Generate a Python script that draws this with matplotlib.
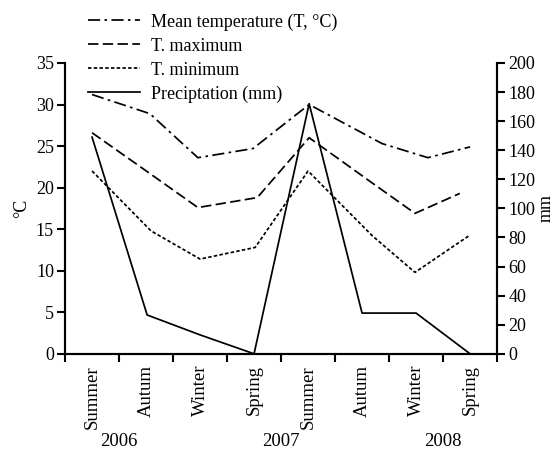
import matplotlib
matplotlib.use("Agg")
import matplotlib.pyplot as plt
import numpy as np

plt.rcParams['font.family'] = ['Liberation Serif', 'DejaVu Serif']

seasons = ["Summer", "Autum", "Winter", "Spring", "Summer", "Autum", "Winter", "Spring"]
years = ["2006", "2007", "2008"]

# x positions in season units (0 = Summer 2006)
mean_x = [0.0, 1.07, 1.96, 2.98, 4.02, 5.37, 6.22, 7.0]
mean_t = [31.2, 28.9, 23.6, 24.7, 30.0, 25.3, 23.6, 24.9]

max_x = [0.0, 1.07, 1.96, 3.06, 4.02, 5.2, 5.98, 6.81]
max_t = [26.6, 21.7, 17.6, 18.8, 26.0, 20.5, 16.9, 19.3]

min_x = [0.0, 1.09, 2.0, 3.02, 4.0, 5.19, 5.98, 7.0]
min_t = [22.0, 14.8, 11.4, 12.8, 22.0, 14.2, 9.8, 14.3]

prec_x = [0.0, 1.02, 2.0, 3.0, 4.02, 5.0, 6.0, 7.0]
prec_mm = [149, 26.7, 13, 0, 172, 28, 28, 0]

fig = plt.figure(figsize=(5.56, 4.53), dpi=100)
ax = fig.add_axes([0.117, 0.219, 0.777, 0.642])
ax2 = ax.twinx()

lw = 1.25
l1, = ax.plot(mean_x, mean_t, color='black', lw=lw, dashes=(7, 2.5, 1.5, 2.5), label='Mean temperature (T, °C)')
l2, = ax.plot(max_x, max_t, color='black', lw=lw, dashes=(6, 2.5), label='T. maximum')
l3, = ax.plot(min_x, min_t, color='black', lw=lw, dashes=(2, 1.3), label='T. minimum')
l4, = ax2.plot(prec_x, prec_mm, color='black', lw=lw, label='Preciptation (mm)')

ax.set_xlim(-0.5, 7.5)
ax.set_ylim(0, 35)
ax2.set_ylim(0, 200)
ax.set_yticks(np.arange(0, 36, 5))
ax2.set_yticks(np.arange(0, 201, 20))

ax.set_xticks(np.arange(-0.5, 7.6, 1))
ax.set_xticklabels([])
ax.set_xticks(np.arange(8), minor=True)
ax.set_xticklabels(seasons, minor=True, rotation=90, fontsize=13.5)
ax.tick_params(axis='x', which='minor', length=0, pad=8)
ax.tick_params(axis='x', which='major', direction='out', length=6, width=1.5)
ax.tick_params(axis='y', direction='out', length=6, width=1.5, labelsize=13, pad=2)
ax2.tick_params(axis='y', direction='out', length=6, width=1.5, labelsize=13, pad=2)

for a in (ax, ax2):
    a.spines['top'].set_visible(False)
    for s in ('left', 'right', 'bottom'):
        a.spines[s].set_linewidth(1.5)

ax.set_ylabel('°C', fontsize=13, labelpad=4)
ax2.set_ylabel('mm', fontsize=13, labelpad=2)

year_pos = [0.5, 3.5, 6.5]
for yp, yr in zip(year_pos, years):
    ax.text(yp, -0.3, yr, transform=ax.get_xaxis_transform(), ha='center', va='center', fontsize=13.5)

fig.legend(handles=[l1, l2, l3, l4], loc='upper left', bbox_to_anchor=(0.142, 0.99),
           frameon=False, fontsize=13, handlelength=2.9, handletextpad=0.6,
           labelspacing=0.38, borderpad=0)

fig.savefig('out.png', dpi=100)
